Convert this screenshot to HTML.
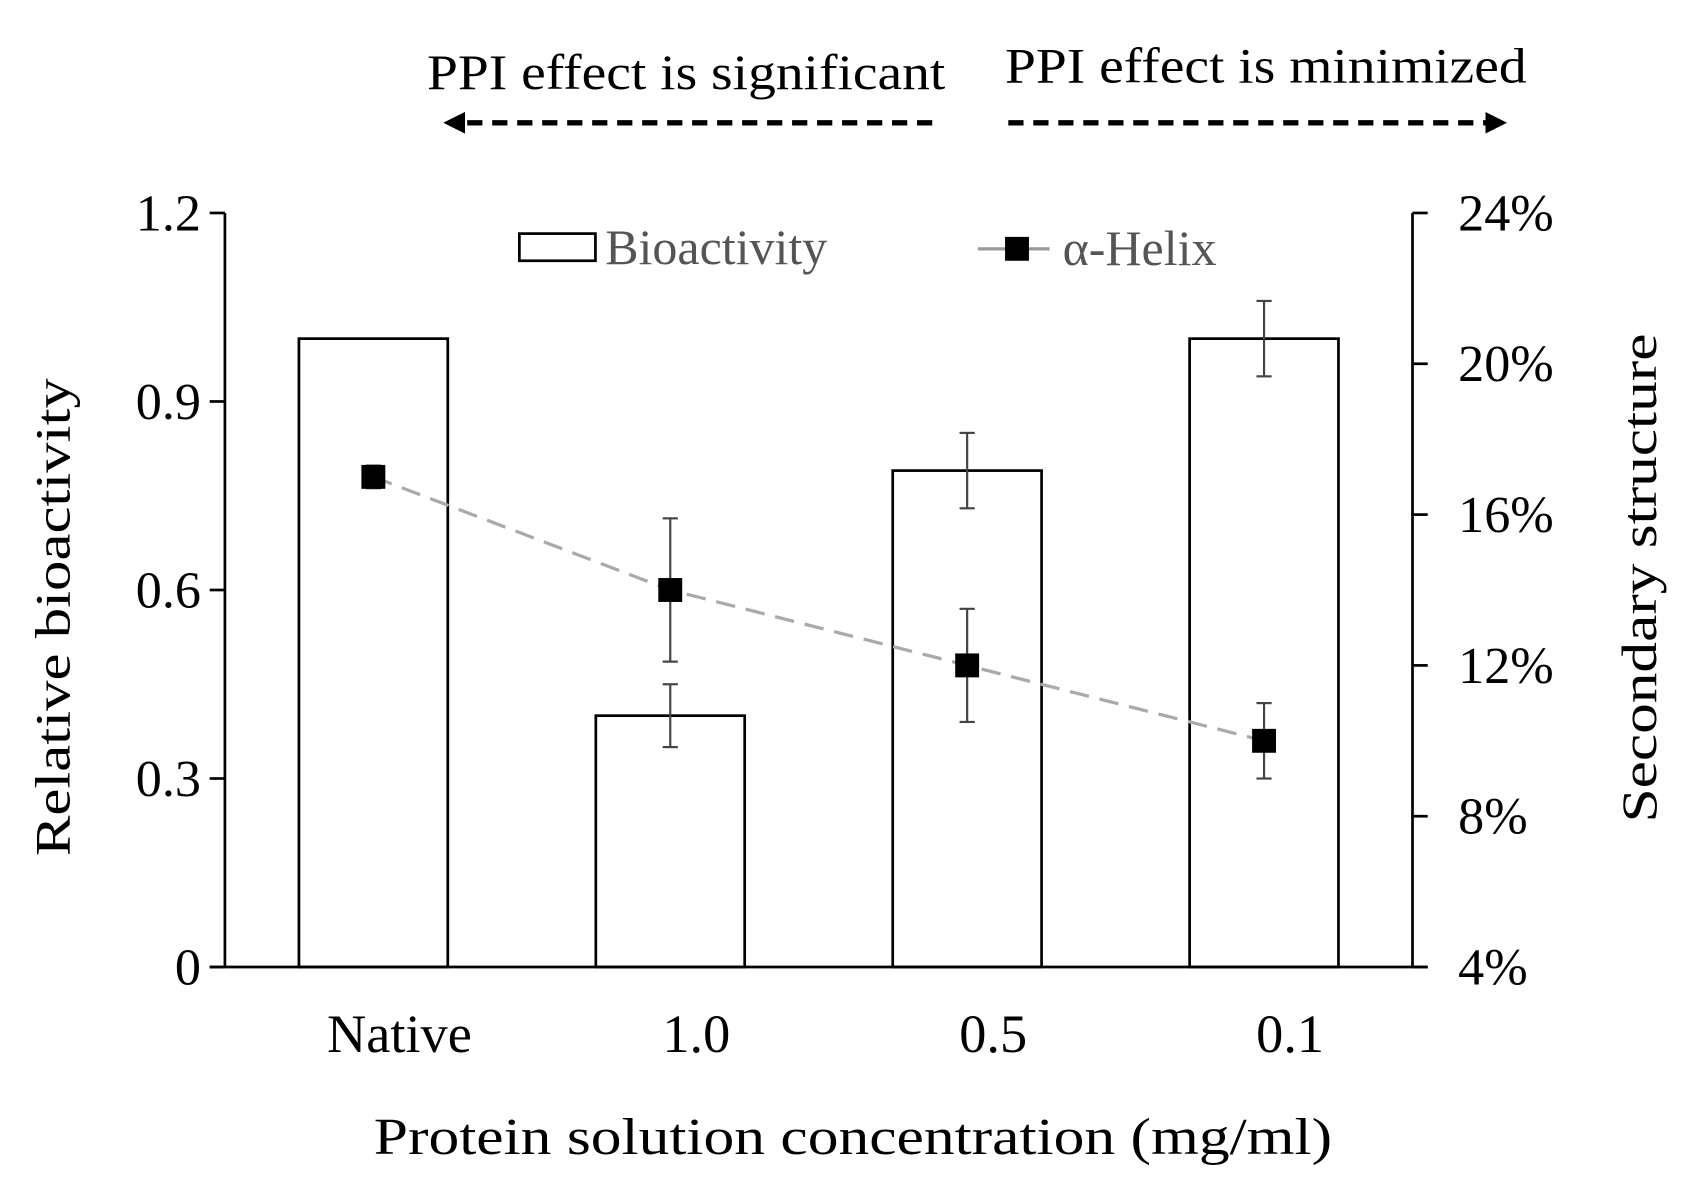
<!DOCTYPE html>
<html><head><meta charset="utf-8"><style>
html,body{margin:0;padding:0;background:#fff;}
svg{display:block;font-family:"Liberation Serif",serif;}
</style></head><body>
<svg id="chart" width="1695" height="1199" viewBox="0 0 1560 1103.5" preserveAspectRatio="none" xmlns="http://www.w3.org/2000/svg">
<defs>
<marker id="ah" markerWidth="4" markerHeight="4" refX="2" refY="2" orient="auto"><path d="M0,0 L4,2 L0,4 z" fill="#000"/></marker>
</defs>
<g>
<text x="393" y="82" font-size="46" textLength="477" lengthAdjust="spacingAndGlyphs">PPI effect is significant</text>
<text x="925" y="76" font-size="46" textLength="480" lengthAdjust="spacingAndGlyphs">PPI effect is minimized</text>
<line x1="858" y1="113" x2="418" y2="113" stroke="#000" stroke-width="5" stroke-dasharray="14,9" marker-end="url(#ah)"/>
<line x1="928" y1="113" x2="1377" y2="113" stroke="#000" stroke-width="5" stroke-dasharray="14,9" marker-end="url(#ah)"/>
</g>
<g id="plot"></g>
</svg>
<script>
const categories = ["Native", "1.0", "0.5", "0.1"];
const bioactivity = [1.0, 0.4, 0.79, 1.0];
const bioactivityErr = [0, 0.05, 0.06, 0.06];
const helix = [17.0, 14.0, 12.0, 10.0];
const helixErr = [0.3, 1.9, 1.5, 1.0];
const leftTicks = ["0", "0.3", "0.6", "0.9", "1.2"];
const leftTickValues = [0, 0.3, 0.6, 0.9, 1.2];
const rightTicks = ["4%", "8%", "12%", "16%", "20%", "24%"];
const rightTickValues = [4, 8, 12, 16, 20, 24];

const NS = "http://www.w3.org/2000/svg";
const g = document.getElementById('plot');
const X0 = 207, X1 = 1300, YT = 196, YB = 890;
const yL = v => YB - (v / 1.2) * (YB - YT);
const yR = v => YB - ((v - 4) / 20) * (YB - YT);
const step = (X1 - X0) / categories.length;
const xC = i => X0 + step * (i + 0.5);
const BW = 137;
function el(tag, attrs, parent) {
  const e = document.createElementNS(NS, tag);
  for (const k in attrs) e.setAttribute(k, attrs[k]);
  (parent || g).appendChild(e);
  return e;
}
// bars
categories.forEach((c, i) => {
  const x = xC(i) - BW / 2, y = yL(bioactivity[i]);
  const r = el('rect', {x: x, y: y, width: BW, height: YB - y, fill: '#fff', stroke: '#000', 'stroke-width': 2.5});
  
  
  if (bioactivityErr[i] > 0) {
    const eg = el('g', {stroke: '#444', 'stroke-width': 2});
    
    
    const t = yL(bioactivity[i] + bioactivityErr[i]), b = yL(bioactivity[i] - bioactivityErr[i]);
    el('line', {x1: xC(i), x2: xC(i), y1: t, y2: b}, eg);
    el('line', {x1: xC(i) - 7, x2: xC(i) + 7, y1: t, y2: t}, eg);
    el('line', {x1: xC(i) - 7, x2: xC(i) + 7, y1: b, y2: b}, eg);
  }
});
// axes
const ax = el('g', {stroke: '#000', 'stroke-width': 2.5});


el('line', {x1: X0, x2: X0, y1: YT, y2: YB}, ax);
el('line', {x1: X1, x2: X1, y1: YT, y2: YB}, ax);
el('line', {x1: X0 - 14, x2: X1 + 14, y1: YB, y2: YB}, ax);
leftTickValues.forEach((v, i) => {
  el('line', {x1: X0 - 14, x2: X0, y1: yL(v), y2: yL(v)}, ax);
  const t = el('text', {x: X0 - 22, y: yL(v) + 16, 'font-size': 48, 'text-anchor': 'end', stroke: 'none'});
  
  
  t.textContent = leftTicks[i];
});
rightTickValues.forEach((v, i) => {
  el('line', {x1: X1, x2: X1 + 14, y1: yR(v), y2: yR(v)}, ax);
  const t = el('text', {x: X1 + 42, y: yR(v) + 16, 'font-size': 48, stroke: 'none'});
  
  
  t.textContent = rightTicks[i];
});
categories.forEach((c, i) => {
  const t = el('text', {x: xC(i) + 24, y: 968, 'font-size': 50, 'text-anchor': 'middle'});
  
  
  t.textContent = c;
});
// helix line
const pts = helix.map((v, i) => xC(i) + ',' + yR(v)).join(' ');
const pl = el('polyline', {points: pts, fill: 'none', stroke: '#aaa', 'stroke-width': 3, 'stroke-dasharray': '18,10'});


helix.forEach((v, i) => {
  const eg = el('g', {stroke: '#444', 'stroke-width': 2});
  
  
  const t = yR(v + helixErr[i]), b = yR(v - helixErr[i]);
  el('line', {x1: xC(i), x2: xC(i), y1: t, y2: b}, eg);
  el('line', {x1: xC(i) - 7, x2: xC(i) + 7, y1: t, y2: t}, eg);
  el('line', {x1: xC(i) - 7, x2: xC(i) + 7, y1: b, y2: b}, eg);
  const m = el('rect', {x: xC(i) - 11, y: yR(v) - 11, width: 22, height: 22, fill: '#000'});
  
  
});
// legend
const lg = el('g', {});


el('rect', {x: 478, y: 215, width: 70, height: 25, fill: '#fff', stroke: '#000', 'stroke-width': 2.5}, lg);
const l1 = el('text', {x: 557, y: 243, 'font-size': 46, fill: '#555'}, lg);


l1.textContent = 'Bioactivity';
el('line', {x1: 900, x2: 966, y1: 229, y2: 229, stroke: '#999', 'stroke-width': 3}, lg);
el('rect', {x: 925, y: 218, width: 22, height: 22, fill: '#000'}, lg);
const l2 = el('text', {x: 978, y: 244, 'font-size': 46, fill: '#555'}, lg);


l2.textContent = 'α-Helix';
// axis titles
const yt = el('text', {x: 0, y: 0, 'font-size': 46, 'text-anchor': 'middle', transform: 'translate(64,568) rotate(-90)', textLength: 440, lengthAdjust: 'spacingAndGlyphs'});


yt.textContent = 'Relative bioactivity';
const rt = el('text', {x: 0, y: 0, 'font-size': 46, 'text-anchor': 'middle', transform: 'translate(1524,532) rotate(-90)', textLength: 450, lengthAdjust: 'spacingAndGlyphs'});


rt.textContent = 'Secondary structure';
const xt = el('text', {x: 785, y: 1062, 'font-size': 48, 'text-anchor': 'middle', textLength: 882, lengthAdjust: 'spacingAndGlyphs'});


xt.textContent = 'Protein solution concentration (mg/ml)';
</script>
</body></html>
